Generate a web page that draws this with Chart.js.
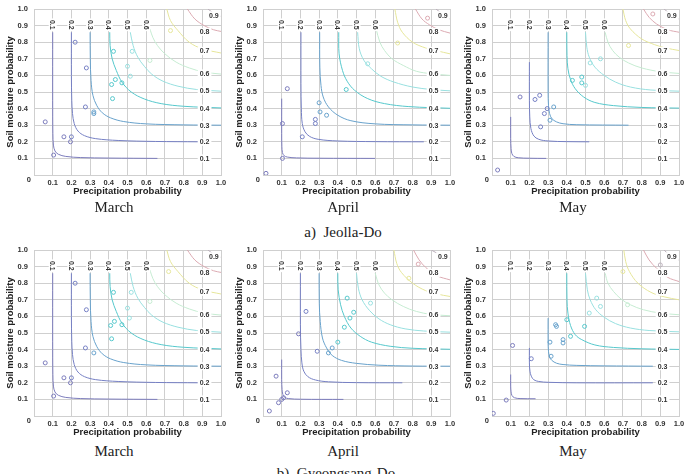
<!DOCTYPE html>
<html>
<head>
<meta charset="utf-8">
<script src="https://cdn.jsdelivr.net/npm/chart.js@4.4.1/dist/chart.umd.min.js"></script>
<style>
  body { margin: 0; background: #fff; width: 688px; height: 474px; position: relative; overflow: hidden; }
  .panel { position: absolute; }
  .cap { position: absolute; transform: translate(-50%, -50%); font-family: "Liberation Serif", "Times New Roman", serif; font-size: 15px; line-height: 1; color: #222; white-space: nowrap; }
</style>
</head>
<body>
<div class="panel" style="left:0px;top:0px"><canvas id="jMar" width="227" height="200"></canvas></div>
<div class="panel" style="left:229px;top:0px"><canvas id="jApr" width="227" height="200"></canvas></div>
<div class="panel" style="left:458px;top:0px"><canvas id="jMay" width="227" height="200"></canvas></div>
<div class="panel" style="left:0px;top:241px"><canvas id="gMar" width="227" height="200"></canvas></div>
<div class="panel" style="left:229px;top:241px"><canvas id="gApr" width="227" height="200"></canvas></div>
<div class="panel" style="left:458px;top:241px"><canvas id="gMay" width="227" height="200"></canvas></div>

<div class="cap" style="left:114px;top:207px">March</div>
<div class="cap" style="left:343px;top:207px">April</div>
<div class="cap" style="left:573px;top:207px">May</div>
<div class="cap" style="left:343px;top:232px">a)&nbsp; Jeolla-Do</div>
<div class="cap" style="left:114px;top:451px">March</div>
<div class="cap" style="left:343px;top:451px">April</div>
<div class="cap" style="left:573px;top:451px">May</div>
<div class="cap" style="left:336px;top:473px">b)&nbsp; Gyeongsang-Do</div>

<script>
// contour levels (joint probability)
const levels = [0.1, 0.2, 0.3, 0.4, 0.5, 0.6, 0.7, 0.8, 0.9];

// contour lines, [precipitation, soil moisture]
const jeollaMarchCurves = [
  [[0.1,0.86],[0.1,0.45],[0.101,0.25],[0.104,0.18],[0.112,0.145],[0.13,0.125],[0.17,0.112],[0.25,0.105],[0.4,0.102],[0.66,0.1]],
  [[0.2,0.86],[0.2,0.6],[0.202,0.45],[0.206,0.37],[0.215,0.31],[0.235,0.265],[0.27,0.237],[0.33,0.219],[0.45,0.208],[0.65,0.202],[0.88,0.2]],
  [[0.3,0.86],[0.301,0.7],[0.305,0.57],[0.315,0.48],[0.335,0.42],[0.365,0.375],[0.41,0.344],[0.48,0.322],[0.6,0.308],[0.8,0.302],[1.0,0.3]],
  [[0.405,0.86],[0.407,0.78],[0.418,0.7],[0.44,0.63],[0.47,0.56],[0.52,0.5],[0.59,0.458],[0.68,0.43],[0.8,0.414],[1.0,0.404]],
  [[0.515,0.86],[0.53,0.78],[0.555,0.71],[0.59,0.655],[0.63,0.607],[0.69,0.565],[0.77,0.535],[0.87,0.515],[1.0,0.505]],
  [[0.62,0.88],[0.635,0.83],[0.66,0.78],[0.7,0.73],[0.76,0.68],[0.83,0.645],[0.91,0.62],[1.0,0.608]],
  [[0.71,1.0],[0.73,0.93],[0.77,0.87],[0.83,0.8],[0.9,0.76],[1.0,0.735]],
  [[0.82,1.0],[0.86,0.94],[0.91,0.9],[0.96,0.875],[1.0,0.865]],
  [[0.93,1.0],[0.965,0.972],[1.0,0.955]]
];
const jeollaAprilCurves = [
  [[0.1,0.46],[0.1,0.25],[0.101,0.17],[0.104,0.135],[0.112,0.117],[0.13,0.108],[0.18,0.103],[0.3,0.101],[0.6,0.1]],
  [[0.203,0.86],[0.203,0.55],[0.205,0.4],[0.21,0.31],[0.225,0.26],[0.25,0.232],[0.295,0.215],[0.4,0.205],[0.6,0.201],[0.86,0.2]],
  [[0.303,0.86],[0.304,0.65],[0.31,0.54],[0.322,0.47],[0.35,0.41],[0.4,0.36],[0.47,0.327],[0.6,0.308],[0.8,0.302],[1.0,0.3]],
  [[0.405,0.86],[0.407,0.73],[0.425,0.63],[0.45,0.565],[0.49,0.51],[0.56,0.46],[0.65,0.43],[0.78,0.412],[1.0,0.402]],
  [[0.506,0.86],[0.515,0.76],[0.54,0.69],[0.58,0.64],[0.63,0.595],[0.7,0.56],[0.8,0.53],[0.9,0.515],[1.0,0.507]],
  [[0.605,0.88],[0.625,0.8],[0.65,0.75],[0.69,0.7],[0.75,0.66],[0.82,0.625],[0.9,0.61],[1.0,0.6]],
  [[0.705,1.0],[0.72,0.92],[0.745,0.86],[0.8,0.8],[0.87,0.765],[0.93,0.748],[1.0,0.73]],
  [[0.815,1.0],[0.85,0.94],[0.89,0.905],[0.94,0.875],[1.0,0.855]],
  [[0.925,1.0],[0.96,0.97],[1.0,0.94]]
];
const jeollaMayCurves = [
  [[0.1,0.35],[0.1,0.22],[0.102,0.16],[0.106,0.13],[0.117,0.112],[0.14,0.104],[0.2,0.101],[0.29,0.1]],
  [[0.2,0.68],[0.2,0.45],[0.202,0.35],[0.208,0.28],[0.224,0.235],[0.25,0.215],[0.3,0.205],[0.4,0.201],[0.52,0.2]],
  [[0.3,0.86],[0.3,0.5],[0.302,0.42],[0.308,0.37],[0.32,0.34],[0.345,0.32],[0.38,0.309],[0.45,0.303],[0.73,0.3]],
  [[0.4,0.86],[0.401,0.72],[0.406,0.64],[0.42,0.575],[0.445,0.52],[0.49,0.47],[0.55,0.437],[0.65,0.418],[0.8,0.407],[1.0,0.403]],
  [[0.5,0.86],[0.507,0.77],[0.52,0.71],[0.55,0.65],[0.6,0.6],[0.66,0.56],[0.74,0.53],[0.85,0.512],[1.0,0.505]],
  [[0.605,0.86],[0.62,0.8],[0.645,0.75],[0.68,0.71],[0.73,0.675],[0.8,0.645],[0.9,0.622],[1.0,0.612]],
  [[0.7,1.0],[0.715,0.93],[0.74,0.88],[0.8,0.82],[0.87,0.785],[0.93,0.765],[1.0,0.75]],
  [[0.81,1.0],[0.84,0.95],[0.88,0.91],[0.94,0.875],[1.0,0.86]],
  [[0.92,1.0],[0.96,0.965],[1.0,0.94]]
];
// March panels of both regions show the same contours
const gyeongMarchCurves = jeollaMarchCurves;
const gyeongAprilCurves = [
  [[0.1,0.34],[0.1,0.22],[0.102,0.16],[0.106,0.13],[0.115,0.113],[0.135,0.105],[0.2,0.101],[0.43,0.1]],
  [[0.2,0.86],[0.2,0.55],[0.203,0.4],[0.208,0.32],[0.218,0.27],[0.24,0.237],[0.28,0.217],[0.35,0.206],[0.5,0.201],[0.745,0.2]],
  [[0.3,0.86],[0.301,0.68],[0.306,0.57],[0.318,0.47],[0.34,0.41],[0.37,0.365],[0.42,0.335],[0.5,0.317],[0.62,0.306],[0.8,0.301],[1.0,0.3]],
  [[0.4,0.86],[0.402,0.76],[0.415,0.67],[0.435,0.6],[0.47,0.53],[0.52,0.48],[0.58,0.445],[0.68,0.42],[0.8,0.408],[1.0,0.402]],
  [[0.5,0.86],[0.51,0.77],[0.53,0.7],[0.57,0.635],[0.62,0.585],[0.68,0.55],[0.76,0.525],[0.86,0.512],[1.0,0.505]],
  [[0.6,0.86],[0.62,0.79],[0.65,0.74],[0.69,0.7],[0.75,0.66],[0.82,0.63],[0.9,0.612],[1.0,0.604]],
  [[0.7,1.0],[0.715,0.92],[0.74,0.865],[0.8,0.8],[0.87,0.755],[0.93,0.735],[1.0,0.72]],
  [[0.805,1.0],[0.835,0.94],[0.87,0.895],[0.93,0.845],[1.0,0.82]],
  [[0.9,1.0],[0.95,0.97],[1.0,0.95]]
];
const gyeongMayCurves = [
  [[0.1,0.25],[0.1,0.18],[0.102,0.145],[0.107,0.123],[0.12,0.11],[0.15,0.105],[0.233,0.104]],
  [[0.2,0.41],[0.2,0.32],[0.203,0.27],[0.21,0.24],[0.224,0.218],[0.25,0.208],[0.3,0.203],[0.45,0.2],[0.86,0.2]],
  [[0.3,0.59],[0.3,0.45],[0.302,0.39],[0.308,0.355],[0.32,0.335],[0.345,0.318],[0.38,0.31],[0.45,0.305],[0.6,0.302],[0.86,0.3]],
  [[0.4,0.86],[0.401,0.7],[0.406,0.62],[0.42,0.545],[0.445,0.49],[0.48,0.46],[0.55,0.428],[0.65,0.413],[0.8,0.405],[1.0,0.401]],
  [[0.5,0.86],[0.51,0.76],[0.525,0.7],[0.555,0.64],[0.6,0.595],[0.66,0.557],[0.74,0.53],[0.84,0.515],[1.0,0.507]],
  [[0.605,0.86],[0.62,0.8],[0.65,0.75],[0.69,0.705],[0.74,0.67],[0.81,0.64],[0.9,0.62],[1.0,0.61]],
  [[0.705,1.0],[0.715,0.93],[0.735,0.87],[0.78,0.8],[0.85,0.745],[0.92,0.718],[1.0,0.7]],
  [[0.81,1.0],[0.84,0.94],[0.88,0.89],[0.94,0.835],[1.0,0.81]],
  [[0.92,1.0],[0.96,0.96],[1.0,0.94]]
];

// observed stations, [precipitation prob, soil moisture prob]
const jeollaMarchPoints = [
  [0.06,0.32],[0.105,0.12],[0.16,0.23],[0.2,0.23],[0.195,0.2],[0.22,0.8],[0.28,0.645],[0.275,0.41],
  [0.32,0.38],[0.32,0.37],[0.42,0.46],[0.415,0.545],[0.435,0.575],[0.425,0.745],[0.47,0.555],
  [0.5,0.655],[0.515,0.595],[0.525,0.745],[0.62,0.69],[0.73,0.87]
];
const jeollaAprilPoints = [
  [0.016,0.01],[0.104,0.1],[0.104,0.31],[0.13,0.52],[0.21,0.23],[0.28,0.335],[0.28,0.31],[0.3,0.435],
  [0.305,0.38],[0.34,0.36],[0.445,0.515],[0.56,0.67],[0.72,0.795],[0.88,0.945]
];
const jeollaMayPoints = [
  [0.03,0.03],[0.15,0.47],[0.23,0.455],[0.255,0.48],[0.28,0.37],[0.26,0.29],[0.295,0.4],[0.31,0.33],
  [0.33,0.41],[0.43,0.57],[0.48,0.59],[0.48,0.555],[0.5,0.54],[0.525,0.675],[0.58,0.7],[0.73,0.78],[0.86,0.97]
];
const gyeongMarchPoints = [
  [0.06,0.32],[0.105,0.12],[0.16,0.23],[0.2,0.23],[0.195,0.2],[0.22,0.8],[0.28,0.64],[0.275,0.41],
  [0.32,0.38],[0.415,0.465],[0.41,0.545],[0.43,0.57],[0.425,0.745],[0.47,0.55],[0.5,0.65],
  [0.51,0.59],[0.52,0.745],[0.62,0.69],[0.72,0.87]
];
const gyeongAprilPoints = [
  [0.034,0.03],[0.07,0.24],[0.083,0.08],[0.1,0.1],[0.11,0.11],[0.13,0.14],[0.19,0.495],[0.23,0.63],
  [0.29,0.39],[0.35,0.38],[0.37,0.41],[0.4,0.445],[0.435,0.535],[0.45,0.71],[0.465,0.59],[0.485,0.625],
  [0.575,0.68],[0.78,0.83],[0.83,0.915]
];
const gyeongMayPoints = [
  [0.007,0.016],[0.076,0.096],[0.11,0.425],[0.21,0.345],[0.316,0.36],[0.31,0.445],[0.34,0.55],[0.345,0.54],
  [0.38,0.46],[0.38,0.44],[0.4,0.58],[0.42,0.48],[0.495,0.54],[0.52,0.62],[0.58,0.66],[0.56,0.71],
  [0.725,0.67],[0.7,0.87],[0.9,0.91]
];

const lineColors = ['#7c7cbc', '#7680c4', '#68a2cc', '#56c8cc', '#98e0e0', '#c6ecd2', '#e6e69a', '#dcaab2', '#bcb0bc'];
const rightLabelPos = [[0.912,0.1],[0.912,0.2],[0.912,0.3],[0.912,0.4],[0.912,0.508],[0.912,0.612],[0.912,0.748],[0.912,0.862],[0.962,0.962]];
const tickFont = { family: '"Liberation Sans", Arial, sans-serif', size: 7.5, weight: 'bold' };
const titleFont = { family: '"Liberation Sans", Arial, sans-serif', size: 9.5, weight: 'bold' };

function levelIndex(p) {
  const m = Math.floor(Math.min(p[0], p[1]) * 10 + 1e-9) - 1;
  return Math.min(8, Math.max(0, m));
}

// contour labels with white boxes, drawn over the curves but under the points
const contourLabels = {
  id: 'contourLabels',
  afterDatasetDraw(chart, args) {
    if (args.index !== 1) return;
    const { ctx } = chart;
    const xs = chart.scales.x, ys = chart.scales.y;
    ctx.save();
    ctx.font = 'bold 7px "Liberation Sans", Arial, sans-serif';
    ctx.textAlign = 'center';
    ctx.textBaseline = 'middle';
    levels.forEach((lv, i) => {
      const txt = lv.toFixed(1);
      const w = ctx.measureText(txt).width;
      if (i < 6) {
        ctx.save();
        ctx.translate(xs.getPixelForValue(lv), ys.getPixelForValue(0.905));
        ctx.rotate(Math.PI / 2);
        ctx.fillStyle = '#fff';
        ctx.fillRect(-w / 2 - 1.5, -4, w + 3, 8);
        ctx.fillStyle = '#333';
        ctx.fillText(txt, 0, 0.5);
        ctx.restore();
      }
      const px = xs.getPixelForValue(rightLabelPos[i][0]);
      const py = ys.getPixelForValue(rightLabelPos[i][1]);
      ctx.fillStyle = '#fff';
      ctx.fillRect(px - w / 2 - 2, py - 4, w + 4, 8);
      ctx.fillStyle = '#333';
      ctx.fillText(txt, px, py + 0.5);
    });
    ctx.restore();
  },
  afterDraw(chart) {
    const { ctx, chartArea } = chart;
    ctx.save();
    ctx.font = 'bold 7.5px "Liberation Sans", Arial, sans-serif';
    ctx.fillStyle = '#333';
    ctx.textAlign = 'right';
    ctx.textBaseline = 'middle';
    ctx.fillText('0', chartArea.left - 3, chartArea.bottom + 4.5);
    ctx.restore();
  }
};

function makePanel(id, curves, points) {
  const curveSets = curves.map((c, i) => ({
    label: levels[i].toFixed(1),
    data: c.map(p => ({ x: p[0], y: p[1] })),
    showLine: true,
    borderColor: lineColors[i],
    borderWidth: 1,
    pointRadius: 0,
    tension: 0.35
  }));
  const pointSet = {
    label: 'stations',
    data: points.map(p => ({ x: p[0], y: p[1] })),
    showLine: false,
    pointRadius: 2,
    pointBorderWidth: 1,
    pointBorderColor: points.map(p => lineColors[levelIndex(p)]),
    pointBackgroundColor: 'rgba(255,255,255,0)'
  };

  new Chart(document.getElementById(id), {
    type: 'scatter',
    data: { datasets: [pointSet, ...curveSets] },
    options: {
      responsive: false,
      animation: false,
      layout: { padding: { top: 9, right: 6, bottom: 0, left: 0 } },
      plugins: { legend: { display: false }, tooltip: { enabled: false } },
      scales: {
        x: {
          type: 'linear', min: 0, max: 1,
          grid: { color: '#cfcfcf', lineWidth: 1, drawTicks: false },
          border: { display: true, color: '#cfcfcf' },
          ticks: {
            stepSize: 0.1, autoSkip: false, maxRotation: 0, padding: 3,
            color: '#333', font: tickFont,
            callback: v => (Math.abs(v) < 1e-9 ? '' : v.toFixed(1))
          },
          title: { display: true, text: 'Precipitation probability', color: '#222', font: titleFont, padding: { top: 0, bottom: 3 } },
          afterFit: s => { s.height = 25; s.paddingLeft = 0; s.paddingRight = 0; }
        },
        y: {
          type: 'linear', min: 0, max: 1,
          grid: { color: '#cfcfcf', lineWidth: 1, drawTicks: false },
          border: { display: true, color: '#cfcfcf' },
          ticks: {
            stepSize: 0.1, padding: 6,
            color: '#333', font: tickFont,
            callback: v => (Math.abs(v) < 1e-9 ? '' : v.toFixed(1))
          },
          title: { display: true, text: 'Soil moisture probability', color: '#222', font: titleFont, padding: { top: 5, bottom: 0 } },
          afterFit: s => { s.width = 34; s.paddingTop = 0; s.paddingBottom = 0; }
        }
      }
    },
    plugins: [contourLabels]
  });
}

makePanel('jMar', jeollaMarchCurves, jeollaMarchPoints);
makePanel('jApr', jeollaAprilCurves, jeollaAprilPoints);
makePanel('jMay', jeollaMayCurves, jeollaMayPoints);
makePanel('gMar', gyeongMarchCurves, gyeongMarchPoints);
makePanel('gApr', gyeongAprilCurves, gyeongAprilPoints);
makePanel('gMay', gyeongMayCurves, gyeongMayPoints);
</script>
</body>
</html>
